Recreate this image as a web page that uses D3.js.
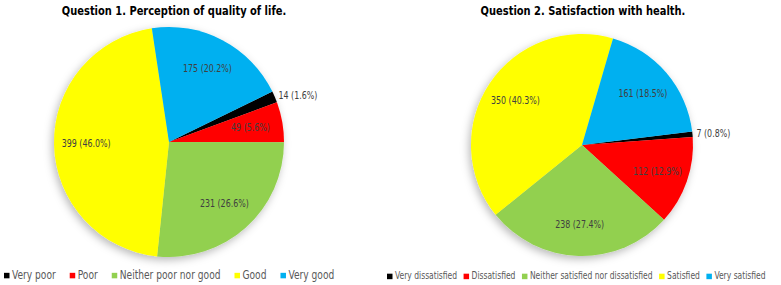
<!DOCTYPE html>
<html>
<head>
<meta charset="utf-8">
<script src="https://cdn.jsdelivr.net/npm/d3@7"></script>
<style>
  body { margin: 0; background: #fff; }
  svg { display: block; font-family: "Liberation Sans Narrow", "DejaVu Sans Condensed", "Open Sans", sans-serif; }
</style>
</head>
<body>
<svg id="chart" width="781" height="285"></svg>
<script>
// Question 1 data
const q1Title = "Question 1. Perception of quality of life.";
const q1Categories = ["Very poor", "Poor", "Neither poor nor good", "Good", "Very good"];
const q1Values = [14, 49, 231, 399, 175];

// Question 2 data
const q2Title = "Question 2. Satisfaction with health.";
const q2Categories = ["Very dissatisfied", "Dissatisfied", "Neither satisfied nor dissatisfied", "Satisfied", "Very satisfied"];
const q2Values = [7, 112, 238, 350, 161];

const sliceColors = ["#000000", "#ff0000", "#92d050", "#ffff00", "#00b0f0"];

// the installed fonts run wider than the original, so squeeze text a bit
const condense = 0.88;

const svg = d3.select("#chart");

// soft shadow behind each pie
const filter = svg.append("defs").append("filter")
  .attr("id", "shadow")
  .attr("x", "-20%").attr("y", "-20%")
  .attr("width", "140%").attr("height", "140%");
filter.append("feDropShadow")
  .attr("dx", -2).attr("dy", 3)
  .attr("stdDeviation", 4)
  .attr("flood-color", "#000")
  .attr("flood-opacity", 0.28);

const pct = d3.format(".1%");

function squeeze(node) {
  const w = node.getComputedTextLength() * condense;
  d3.select(node)
    .attr("textLength", w)
    .attr("lengthAdjust", "spacingAndGlyphs");
  return w;
}

function drawPie(opts) {
  const total = d3.sum(opts.values);
  const start = opts.firstAngle * Math.PI / 180;

  const pie = d3.pie()
    .sort(null)
    .startAngle(start)
    .endAngle(start + 2 * Math.PI);

  const arcs = pie(opts.values);
  const arc = d3.arc().innerRadius(0).outerRadius(opts.r);
  const labelArc = d3.arc().innerRadius(opts.r * 0.72).outerRadius(opts.r * 0.72);

  const g = svg.append("g")
    .attr("transform", `translate(${opts.cx},${opts.cy})`);

  g.append("g")
    .attr("filter", "url(#shadow)")
    .selectAll("path")
    .data(arcs)
    .enter().append("path")
    .attr("d", arc)
    .attr("fill", (d, i) => sliceColors[i]);

  // labels: small slices go just outside the rim
  g.selectAll("text.lbl")
    .data(arcs)
    .enter().append("text")
    .attr("class", "lbl")
    .attr("font-size", 10)
    .attr("fill", "#404040")
    .text(d => `${d.value} (${pct(d.value / total)})`)
    .each(function(d) {
      const small = d.value / total < 0.03;
      const mid = (d.startAngle + d.endAngle) / 2;
      let x, y;
      if (small) {
        x = Math.sin(mid) * (opts.r + 4);
        y = -Math.cos(mid) * (opts.r + 4);
      } else {
        [x, y] = labelArc.centroid(d);
      }
      d3.select(this)
        .attr("x", x)
        .attr("y", y)
        .attr("dy", "0.35em")
        .attr("text-anchor", small ? "start" : "middle");
      squeeze(this);
    });

  // title
  const title = svg.append("text")
    .attr("x", opts.titleX)
    .attr("y", 15)
    .attr("text-anchor", "middle")
    .attr("font-weight", "bold")
    .attr("font-size", 12.5)
    .attr("fill", "#000")
    .text(opts.title);
  squeeze(title.node());

  // legend, laid out left to right
  const legend = svg.append("g")
    .attr("transform", `translate(${opts.legendX},${opts.legendY})`);
  let x = 0;
  opts.categories.forEach((c, i) => {
    legend.append("rect")
      .attr("x", x)
      .attr("y", -opts.legendFont * 0.45)
      .attr("width", 5.5)
      .attr("height", 5.5)
      .attr("fill", sliceColors[i]);
    const t = legend.append("text")
      .attr("x", x + 8)
      .attr("y", 0)
      .attr("dy", "0.1em")
      .attr("font-size", opts.legendFont)
      .attr("fill", "#595959")
      .text(c);
    x += 8 + squeeze(t.node()) + opts.legendGap;
  });
}

drawPie({
  title: q1Title, categories: q1Categories, values: q1Values,
  cx: 169, cy: 142, r: 115, firstAngle: 64,
  titleX: 174, legendX: 4, legendY: 278, legendFont: 11.5, legendGap: 14
});

drawPie({
  title: q2Title, categories: q2Categories, values: q2Values,
  cx: 582, cy: 145, r: 111, firstAngle: 83,
  titleX: 583, legendX: 387, legendY: 278, legendFont: 9.6, legendGap: 6.5
});
</script>
</body>
</html>
